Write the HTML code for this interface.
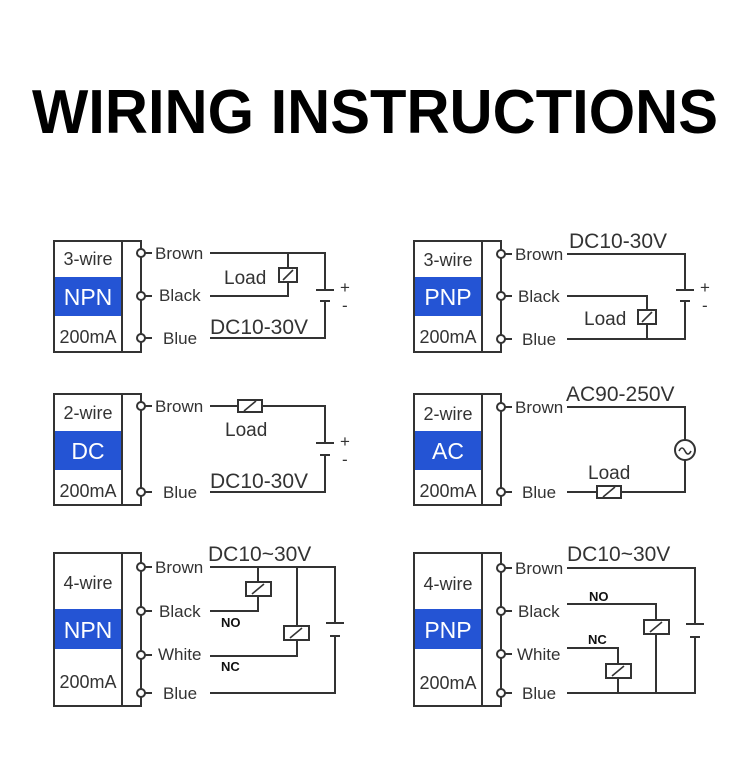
<!DOCTYPE html>
<html><head><meta charset="utf-8"><style>
html,body{margin:0;padding:0;background:#fff;}
svg{display:block;font-family:"Liberation Sans",sans-serif;}
</style></head><body>
<svg width="750" height="766" viewBox="0 0 750 766" xmlns="http://www.w3.org/2000/svg">
<text x="32" y="133" font-size="62" font-weight="bold" textLength="686" lengthAdjust="spacingAndGlyphs" fill="#000">WIRING INSTRUCTIONS</text>
<defs>
<g id="relayH"><rect x="-12" y="-6" width="24" height="12" fill="#fff" stroke="#333" stroke-width="2"/><line x1="-6" y1="5" x2="6" y2="-5" stroke="#333" stroke-width="1.6"/></g>
<g id="relayV"><rect x="-9" y="-7" width="18" height="14" fill="#fff" stroke="#333" stroke-width="2"/><line x1="-5" y1="5" x2="5" y2="-5" stroke="#333" stroke-width="1.6"/></g>
<g id="relay4"><rect x="-12" y="-7" width="25" height="14" fill="#fff" stroke="#333" stroke-width="2"/><line x1="-6" y1="5" x2="6" y2="-5" stroke="#333" stroke-width="1.6"/></g>
</defs>
<g stroke="#333" stroke-width="2" fill="none">
<rect x="54" y="241" width="87" height="111"/><line x1="122" y1="241" x2="122" y2="352"/>
<rect x="414" y="241" width="87" height="111"/><line x1="482" y1="241" x2="482" y2="352"/>
<rect x="54" y="394" width="87" height="111"/><line x1="122" y1="394" x2="122" y2="505"/>
<rect x="414" y="394" width="87" height="111"/><line x1="482" y1="394" x2="482" y2="505"/>
<rect x="54" y="553" width="87" height="153"/><line x1="122" y1="553" x2="122" y2="706"/>
<rect x="414" y="553" width="87" height="153"/><line x1="482" y1="553" x2="482" y2="706"/>
</g>
<g fill="#2454d4">
<rect x="55" y="277" width="66" height="39"/><rect x="415" y="277" width="66" height="39"/>
<rect x="55" y="431" width="66" height="39"/><rect x="415" y="431" width="66" height="39"/>
<rect x="55" y="609" width="66" height="40"/><rect x="415" y="609" width="66" height="40"/>
</g>
<g font-size="18" fill="#333" text-anchor="middle">
<text x="88" y="265">3-wire</text><text x="88" y="343">200mA</text>
<text x="448" y="266">3-wire</text><text x="448" y="343">200mA</text>
<text x="88" y="419">2-wire</text><text x="88" y="497">200mA</text>
<text x="448" y="420">2-wire</text><text x="448" y="497">200mA</text>
<text x="88" y="589">4-wire</text><text x="88" y="688">200mA</text>
<text x="448" y="590">4-wire</text><text x="448" y="689">200mA</text>
</g>
<g font-size="23" fill="#fff" text-anchor="middle">
<text x="88" y="305">NPN</text><text x="448" y="305">PNP</text>
<text x="88" y="459">DC</text><text x="448" y="459">AC</text>
<text x="88" y="638">NPN</text><text x="448" y="638">PNP</text>
</g>
<g stroke="#333" stroke-width="2" fill="#fff">
<line x1="141" y1="253" x2="152" y2="253"/><line x1="141" y1="296" x2="152" y2="296"/><line x1="141" y1="338" x2="152" y2="338"/>
<circle cx="141" cy="253" r="4"/><circle cx="141" cy="296" r="4"/><circle cx="141" cy="338" r="4"/>
<line x1="501" y1="254" x2="512" y2="254"/><line x1="501" y1="296" x2="512" y2="296"/><line x1="501" y1="339" x2="512" y2="339"/>
<circle cx="501" cy="254" r="4"/><circle cx="501" cy="296" r="4"/><circle cx="501" cy="339" r="4"/>
<line x1="141" y1="406" x2="152" y2="406"/><line x1="141" y1="492" x2="152" y2="492"/>
<circle cx="141" cy="406" r="4"/><circle cx="141" cy="492" r="4"/>
<line x1="501" y1="407" x2="512" y2="407"/><line x1="501" y1="492" x2="512" y2="492"/>
<circle cx="501" cy="407" r="4"/><circle cx="501" cy="492" r="4"/>
<line x1="141" y1="567" x2="152" y2="567"/><line x1="141" y1="611" x2="152" y2="611"/><line x1="141" y1="655" x2="152" y2="655"/><line x1="141" y1="693" x2="152" y2="693"/>
<circle cx="141" cy="567" r="4"/><circle cx="141" cy="611" r="4"/><circle cx="141" cy="655" r="4"/><circle cx="141" cy="693" r="4"/>
<line x1="501" y1="568" x2="512" y2="568"/><line x1="501" y1="611" x2="512" y2="611"/><line x1="501" y1="654" x2="512" y2="654"/><line x1="501" y1="693" x2="512" y2="693"/>
<circle cx="501" cy="568" r="4"/><circle cx="501" cy="611" r="4"/><circle cx="501" cy="654" r="4"/><circle cx="501" cy="693" r="4"/>
</g>
<g font-size="17" fill="#333">
<text x="155" y="259">Brown</text><text x="159" y="301">Black</text><text x="163" y="344">Blue</text>
<text x="515" y="260">Brown</text><text x="518" y="302">Black</text><text x="522" y="345">Blue</text>
<text x="155" y="412">Brown</text><text x="163" y="498">Blue</text>
<text x="515" y="413">Brown</text><text x="522" y="498">Blue</text>
<text x="155" y="573">Brown</text><text x="159" y="617">Black</text><text x="158" y="660">White</text><text x="163" y="699">Blue</text>
<text x="515" y="574">Brown</text><text x="518" y="617">Black</text><text x="517" y="660">White</text><text x="522" y="699">Blue</text>
</g>
<g stroke="#333" stroke-width="2" fill="none">
<polyline points="210,253 325,253 325,290"/><line x1="316" y1="290" x2="334" y2="290"/><line x1="320" y1="301" x2="330" y2="301"/>
<polyline points="325,301 325,338 210,338"/>
<polyline points="210,296 288,296 288,253"/>
<polyline points="567,254 685,254 685,290"/><line x1="676" y1="290" x2="694" y2="290"/><line x1="680" y1="301" x2="690" y2="301"/>
<polyline points="685,301 685,339 567,339"/>
<polyline points="567,296 647,296 647,339"/>
<polyline points="210,406 325,406 325,443"/><line x1="316" y1="443" x2="334" y2="443"/><line x1="320" y1="455" x2="330" y2="455"/>
<polyline points="325,455 325,492 210,492"/>
<polyline points="567,407 685,407 685,492 567,492"/>
<polyline points="210,567 335,567 335,623"/><line x1="326" y1="623" x2="344" y2="623"/><line x1="330" y1="636" x2="340" y2="636"/>
<polyline points="335,636 335,693 210,693"/>
<polyline points="258,567 258,611 210,611"/>
<polyline points="297,567 297,656 210,656"/>
<polyline points="567,568 695,568 695,624"/><line x1="686" y1="624" x2="704" y2="624"/><line x1="690" y1="637" x2="700" y2="637"/>
<polyline points="695,637 695,693 567,693"/>
<polyline points="567,604 656,604 656,693"/>
<polyline points="567,648 618,648 618,693"/>
</g>
<use href="#relayV" x="288" y="275"/>
<use href="#relayV" x="647" y="317"/>
<use href="#relayH" x="250" y="406"/>
<use href="#relayH" x="609" y="492"/>
<use href="#relay4" x="258" y="589"/>
<use href="#relay4" x="296" y="633"/>
<use href="#relay4" x="656" y="627"/>
<use href="#relay4" x="618" y="671"/>
<g stroke="#333" stroke-width="2" fill="#fff"><circle cx="685" cy="450" r="10"/></g>
<path d="M679,451 q3,-6 6,0 t6,0" stroke="#333" stroke-width="1.6" fill="none"/>
<g font-size="19" fill="#333">
<text x="224" y="284">Load</text>
<text x="584" y="325">Load</text>
<text x="225" y="436">Load</text>
<text x="588" y="479">Load</text>
</g>
<g font-size="21" fill="#333">
<text x="210" y="334">DC10-30V</text>
<text x="569" y="248">DC10-30V</text>
<text x="210" y="488">DC10-30V</text>
<text x="566" y="401">AC90-250V</text>
<text x="208" y="561">DC10~30V</text>
<text x="567" y="561">DC10~30V</text>
</g>
<g font-size="17" fill="#333"><text x="340" y="293">+</text><text x="342" y="311">-</text>
<text x="700" y="293">+</text><text x="702" y="311">-</text>
<text x="340" y="447">+</text><text x="342" y="465">-</text></g>
<g font-size="13" font-weight="bold" fill="#111">
<text x="221" y="627">NO</text><text x="221" y="671">NC</text>
<text x="589" y="601">NO</text><text x="588" y="644">NC</text>
</g>
</svg>
</body></html>
